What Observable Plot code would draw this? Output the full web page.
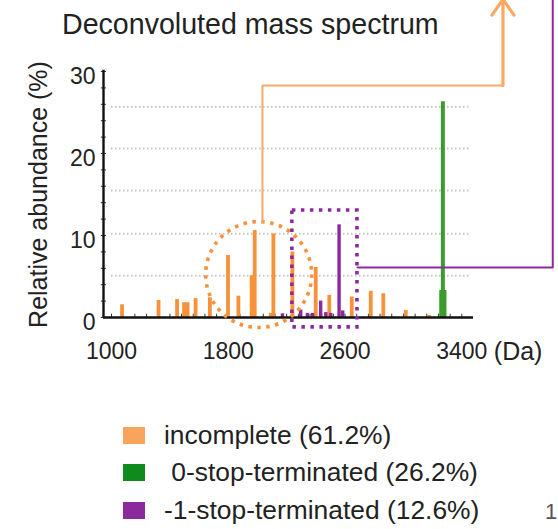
<!DOCTYPE html>
<html>
<head>
<meta charset="utf-8">
<script src="https://cdn.jsdelivr.net/npm/d3@7"></script>
<script src="https://cdn.jsdelivr.net/npm/@observablehq/plot@0.6"></script>
<style>
  html, body { margin: 0; padding: 0; background: #fff; }
  body { font-family: "Liberation Sans", Arial, sans-serif; color: #222; }
  #wrap { position: relative; width: 558px; height: 529px; overflow: hidden; }
  #chart { position: absolute; left: 0; top: 0; }
  #title { position: absolute; left: 62px; top: 10px; font-size: 28.6px; line-height: 28px; white-space: nowrap; color: #222; }
  .sw { position: absolute; left: 123px; width: 22px; height: 17px; }
  .lt { position: absolute; left: 164px; font-size: 26.4px; line-height: 26px; white-space: pre; color: #222; }
  #pg { position: absolute; left: 545px; top: 501px; font-size: 22px; line-height: 22px; color: #555; }
</style>
</head>
<body>
<div id="wrap">
  <div id="chart"></div>
  <div id="title">Deconvoluted mass spectrum</div>
  <div id="legend"></div>
  <div id="pg">1</div>
</div>
<script>
// ---- data ----
const massTicks = [1000, 1800, 2600, 3400];
const abundTicks = [0, 10, 20, 30];
const gridValues = [5.1, 10.2, 15.5, 20.6, 25.7];

// incomplete (orange)
const incompleteMass = [1072, 1322, 1449, 1497, 1521, 1576, 1674, 1798, 1869, 1960, 1981, 2091, 2109, 2239, 2399, 2492, 2646, 2776, 2862, 3016, 3176];
const incompleteAbund = [1.55, 2.07, 2.2, 1.8, 1.8, 2.3, 2.4, 7.56, 2.6, 5.1, 10.6, 0.5, 10.2, 8.0, 6.1, 2.7, 2.5, 3.2, 2.9, 0.85, 0.25];

// 0-stop-terminated (green)
const zeroStopMass = [3259, 3281, 3270];
const zeroStopAbund = [3.3, 3.3, 26.3];

// -1-stop-terminated (purple)
const minusOneMass = [2171, 2296, 2342, 2377, 2433, 2468, 2502, 2559, 2584];
const minusOneAbund = [0.45, 0.9, 0.5, 0.5, 2.0, 0.6, 0.5, 11.3, 0.8];

// legend
const seriesNames = ["incomplete (61.2%)", " 0-stop-terminated (26.2%)", "-1-stop-terminated (12.6%)"];
const seriesColors = ["#f9a45c", "#0f8a1c", "#8b2a9c"];

// annotations (in data units: Da, %)
const circleCenter = [{mass: 2008, abund: 5.24}];
const boxRegion = [{m1: 2239, m2: 2685, a1: -1.2, a2: 13.05}];
const orangePath = [{mass: 2034, abund: 11.6}, {mass: 2034, abund: 28.3}, {mass: 3682, abund: 28.3}];
const orangeArrow = [{m1: 3682, a1: 28.3, m2: 3682, a2: 38.8}];
const purplePath = [{mass: 2685, abund: 6.1}, {mass: 4023, abund: 6.1}, {mass: 4023, abund: 38.8}];

const xDomain = [945, 3480];
const minorX = d3.range(1000, 3480, 80);
const minorY = d3.range(0, 30.1, 2);

const orange = "#f7923a", orangeLine = "#f9a865", green = "#3b9c2e", purple = "#8b2a9c";

const toRows = (ms, as) => ms.map((m, i) => ({mass: m, abund: as[i]}));
const incomplete = toRows(incompleteMass, incompleteAbund);
const zeroStop = toRows(zeroStopMass, zeroStopAbund);
const minusOne = toRows(minusOneMass, minusOneAbund);

const chart = Plot.plot({
  width: 558,
  height: 380,
  marginLeft: 103,
  marginRight: 85,
  marginTop: 71,
  marginBottom: 63,
  style: {fontFamily: "Liberation Sans, Arial, sans-serif", fontSize: "23px", color: "#222", background: "transparent"},
  x: {domain: xDomain},
  y: {domain: [0, 30]},
  marks: [
    Plot.ruleY(gridValues, {y: d => d, x1: 1000, x2: 3450, stroke: "#c4c4c4", strokeWidth: 2, strokeDasharray: "1.5,2.5"}),
    Plot.ruleX(minorX, {x: d => d, y1: 0, y2: 0.4, stroke: "#333", strokeWidth: 1}),
    Plot.ruleY(minorY, {y: d => d, x1: 930, x2: 965, stroke: "#333", strokeWidth: 1}),
    Plot.ruleX(incomplete, {x: "mass", y1: 0, y2: "abund", stroke: orange, strokeWidth: 3.8}),
    Plot.ruleX(minusOne, {x: "mass", y1: 0, y2: "abund", stroke: purple, strokeWidth: 3.4}),
    Plot.ruleX(zeroStop, {x: "mass", y1: 0, y2: "abund", stroke: green, strokeWidth: 4}),
    Plot.ruleY([0], {x1: xDomain[0], x2: xDomain[1], stroke: "#111", strokeWidth: 2.6}),
    Plot.ruleX([xDomain[0]], {y1: 0, y2: 30.15, stroke: "#111", strokeWidth: 2.4}),
    Plot.axisY(abundTicks, {tickSize: 0, tickPadding: 8, dy: 5, fontSize: 23, label: null}),
    Plot.axisX(massTicks, {tickSize: 0, tickPadding: 25, fontSize: 23, tickFormat: d => String(d), label: null}),
    Plot.text(["(Da)"], {x: massTicks[3], y: 0, text: d => d, textAnchor: "start", lineAnchor: "top", dx: 32, dy: 25, fontSize: 25}),
    Plot.text(["Relative abundance (%)"], {frameAnchor: "left", text: d => d, rotate: -90, textAnchor: "middle", dx: -65, fontSize: 25}),
    Plot.dot(circleCenter, {x: "mass", y: "abund", r: 53, fill: "none", stroke: orange, strokeWidth: 3.6, strokeDasharray: "3.5,5.5"}),
    Plot.rect(boxRegion, {x1: "m1", x2: "m2", y1: "a1", y2: "a2", fill: "none", stroke: purple, strokeWidth: 3.6, strokeDasharray: "3.5,5.5"}),
    Plot.line(orangePath, {x: "mass", y: "abund", stroke: orangeLine, strokeWidth: 2, curve: "linear"}),
    Plot.arrow(orangeArrow, {x1: "m1", y1: "a1", x2: "m2", y2: "a2", stroke: orangeLine, strokeWidth: 3.2, headLength: 9, headAngle: 70}),
    Plot.line(purplePath, {x: "mass", y: "abund", stroke: purple, strokeWidth: 2, curve: "linear"})
  ]
});
document.getElementById("chart").appendChild(chart);

// legend
const legend = document.getElementById("legend");
seriesNames.forEach((name, i) => {
  const sw = document.createElement("div");
  sw.className = "sw";
  sw.style.top = (427 + 37.3 * i) + "px";
  sw.style.background = seriesColors[i];
  legend.appendChild(sw);
  const t = document.createElement("div");
  t.className = "lt";
  t.style.top = (422 + 37.3 * i) + "px";
  t.textContent = name;
  legend.appendChild(t);
});
</script>
</body>
</html>
